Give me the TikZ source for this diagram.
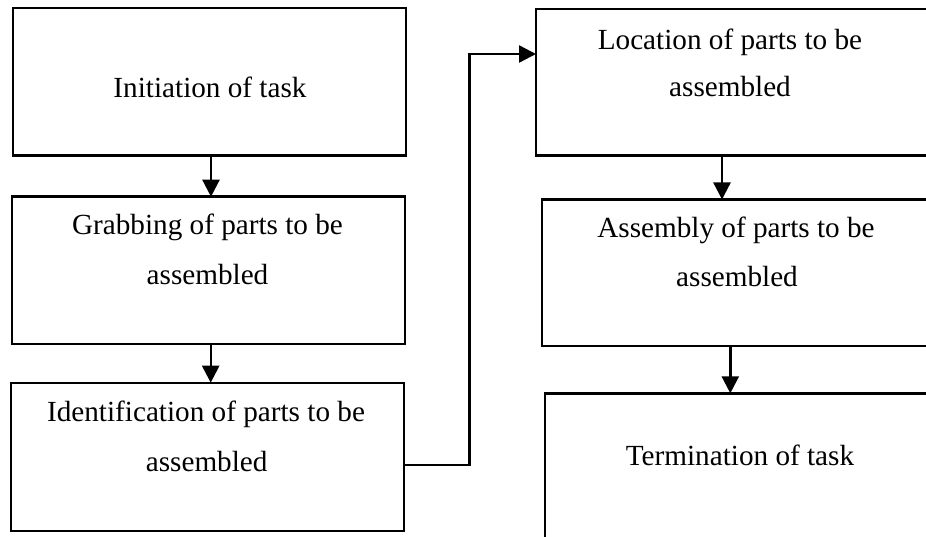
\documentclass[tikz,border=0pt]{standalone}
\usepackage{fontspec}
\setmainfont{Liberation Serif}
\usetikzlibrary{arrows.meta}
\begin{document}
\begin{tikzpicture}[x=1pt,y=-1pt,
  box/.style={draw, line width=2.4pt, inner sep=0pt, outer sep=0pt},
  lbl/.style={anchor=base, inner sep=0pt, font=\fontsize{29.2}{35}\selectfont},
  arr/.style={line width=2.4pt, -{Triangle[length=17pt,width=17pt]}}]
\useasboundingbox (0,0) rectangle (926,537);
\clip (0,0) rectangle (926,537);
% boxes
\node[box, minimum width=393pt, minimum height=147.7pt] (b1) at (209.5,81.85) {};
\node[box, minimum width=393pt, minimum height=147.3pt] (b2) at (208.5,270.35) {};
\node[box, minimum width=393pt, minimum height=148pt]   (b3) at (207.5,456.7) {};
\node[box, minimum width=396pt, minimum height=146.7pt] (b4) at (734,82.35) {};
\node[box, minimum width=390pt, minimum height=146.5pt] (b5) at (737,272.75) {};
\node[box, minimum width=390pt, minimum height=176.7pt] (b6) at (740,481.65) {};
% texts
\node[lbl] (t1)  at (210,97.3)   {Initiation of task};
\node[lbl] (t2a) at (207.5,235)  {Grabbing of parts to be};
\node[lbl] (t2b) at (207.5,285)  {assembled};
\node[lbl] (t3a) at (206,421.7)  {Identification of parts to be};
\node[lbl] (t3b) at (206.7,471.7){assembled};
\node[lbl] (t4a) at (730,50)     {Location of parts to be};
\node[lbl] (t4b) at (730,96.7)   {assembled};
\node[lbl] (t5a) at (736,237.3)  {Assembly of parts to be};
\node[lbl] (t5b) at (737,286.7)  {assembled};
\node[lbl] (t6)  at (740,465)    {Termination of task};
% arrow columns
\coordinate (a12) at (211,0);
\coordinate (a23) at (210.7,0);
\coordinate (a45) at (722,0);
\coordinate (a56) at (730.3,0);
\coordinate (c1) at (469.3,250);
% connectors
\draw[arr] (b1.south -| a12) -- (b2.north -| a12);
\draw[arr] (b2.south -| a23) -- (b3.north -| a23);
\draw[arr] (b4.south -| a45) -- (b5.north -| a45);
\draw[arr] (b5.south -| a56) -- (b6.north -| a56);
\draw[arr] ([yshift=-8.3pt]b3.east) -| (c1) |- ([yshift=28.35pt]b4.west);
\end{tikzpicture}
\end{document}
